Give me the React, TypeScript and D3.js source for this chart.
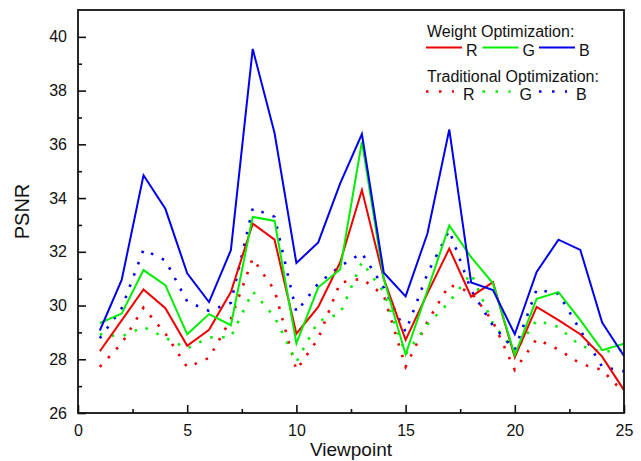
import React, { useRef, useEffect } from 'react';
import * as d3 from 'd3';

// viewpoint index on the x axis
const viewpoints = [1, 2, 3, 4, 5, 6, 7, 8, 9, 10, 11, 12, 13, 14, 15, 16, 17, 18, 19, 20, 21, 22, 23, 24, 25];

// Weight optimization (solid)
const weightR = [28.3, 29.45, 30.6, 29.9, 28.5, 29.1, 30.5, 33.05, 32.45, 28.95, 29.95, 31.6, 34.3, 31.0, 28.72, 30.45, 32.12, 30.33, 30.87, 28.07, 29.95, 29.46, 28.93, 28.1, 26.85];
const weightG = [29.35, 29.7, 31.32, 30.76, 28.93, 29.68, 29.27, 33.3, 33.15, 28.59, 30.68, 31.34, 36.1, 31.0, 28.18, 30.56, 32.98, 31.8, 30.83, 28.15, 30.25, 30.5, 29.46, 28.34, 28.58];
const weightB = [29.07, 30.95, 34.85, 33.6, 31.2, 30.13, 32.06, 39.55, 36.42, 31.58, 32.35, 34.54, 36.38, 31.22, 30.34, 32.68, 36.55, 30.86, 30.58, 28.93, 31.25, 32.45, 32.07, 29.37, 28.12];

// Traditional optimization (dotted)
const tradR = [27.72, 28.59, 29.92, 28.96, 27.7, 28.05, 29.5, 31.75, 30.57, 27.6, 28.77, 30.85, 31.0, 30.38, 27.72, 29.4, 30.77, 30.5, 29.4, 27.6, 28.75, 28.36, 27.84, 27.6, 26.75];
const tradG = [28.93, 28.85, 29.2, 28.8, 28.4, 28.81, 28.83, 30.52, 29.58, 27.9, 29.42, 29.7, 31.62, 30.5, 28.18, 29.3, 30.13, 31.2, 29.33, 28.28, 29.45, 29.2, 28.5, 28.28, 28.35];
const tradB = [28.78, 29.9, 32.08, 31.68, 30.15, 29.8, 30.1, 33.62, 33.3, 29.76, 30.82, 31.46, 31.95, 30.67, 29.02, 31.19, 32.8, 30.57, 29.25, 28.35, 30.6, 30.44, 29.08, 27.72, 27.55];

const channelNames = ['R', 'G', 'B'];
const channelColors = ['#ee0000', '#00ee00', '#0000ee'];

const xTicks = [0, 5, 10, 15, 20, 25];
const xMinorTicks = [2.5, 7.5, 12.5, 17.5, 22.5];
const yTicks = [26, 28, 30, 32, 34, 36, 38, 40];
const yMinorTicks = [27, 29, 31, 33, 35, 37, 39];

const FONT = 'Arial, "Liberation Sans", sans-serif';

const Chart: React.FC = () => {
    const svgRef = useRef<SVGSVGElement>(null);

    useEffect(() => {
        const W = 641, H = 461;
        const margin = { top: 10, right: 17, bottom: 48, left: 78 };
        const width = W - margin.left - margin.right;
        const height = H - margin.top - margin.bottom;

        const svg = d3.select(svgRef.current);
        svg.selectAll('*').remove();

        const x = d3.scaleLinear().domain([0, 25]).range([0, width]);
        const y = d3.scaleLinear().domain([26, 41]).range([height, 0]);

        const g = svg.append('g').attr('transform', `translate(${margin.left},${margin.top})`);

        const line = d3.line<number>()
            .x((_, i) => x(viewpoints[i]))
            .y(d => y(d));

        // series
        const solid = [weightR, weightG, weightB];
        const dotted = [tradR, tradG, tradB];

        dotted.forEach((s, k) => {
            g.append('path')
                .datum(s)
                .attr('fill', 'none')
                .attr('stroke', channelColors[k])
                .attr('stroke-width', 2.6)
                .attr('stroke-dasharray', '2.5 9.5')
                .attr('d', line);
        });
        solid.forEach((s, k) => {
            g.append('path')
                .datum(s)
                .attr('fill', 'none')
                .attr('stroke', channelColors[k])
                .attr('stroke-width', 2)
                .attr('stroke-linejoin', 'miter')
                .attr('d', line);
        });

        // axes (ticks pointing inward)
        const styleAxis = (sel: d3.Selection<SVGGElement, unknown, null, undefined>) => {
            sel.select('.domain').remove();
            sel.selectAll('line').attr('stroke', '#111').attr('stroke-width', 1.6);
            sel.selectAll('text').attr('fill', '#111').style('font-family', FONT).style('font-size', '16px');
        };

        g.append('g')
            .call(d3.axisLeft(y).tickValues(yTicks).tickSize(-8).tickPadding(11).tickFormat(d3.format('d')))
            .call(styleAxis);
        g.append('g')
            .call(d3.axisLeft(y).tickValues(yMinorTicks).tickSize(-4).tickFormat(() => ''))
            .call(styleAxis);

        g.append('g')
            .attr('transform', `translate(0,${height})`)
            .call(d3.axisBottom(x).tickValues(xTicks).tickSize(-8).tickPadding(12).tickFormat(d3.format('d')))
            .call(styleAxis);
        g.append('g')
            .attr('transform', `translate(0,${height})`)
            .call(d3.axisBottom(x).tickValues(xMinorTicks).tickSize(-4).tickFormat(() => ''))
            .call(styleAxis);

        // frame
        g.append('rect')
            .attr('x', 0).attr('y', 0)
            .attr('width', width).attr('height', height)
            .attr('fill', 'none')
            .attr('stroke', '#111')
            .attr('stroke-width', 1.8);

        // axis titles
        svg.append('text')
            .attr('transform', `translate(29,${margin.top + height / 2}) rotate(-90)`)
            .attr('text-anchor', 'middle')
            .attr('fill', '#111')
            .style('font-family', FONT)
            .style('font-size', '20px')
            .text('PSNR');

        svg.append('text')
            .attr('x', margin.left + width / 2)
            .attr('y', 456)
            .attr('text-anchor', 'middle')
            .attr('fill', '#111')
            .style('font-family', FONT)
            .style('font-size', '19px')
            .text('Viewpoint');

        // legend
        const legend = svg.append('g').attr('transform', 'translate(426,0)');
        const groups = [
            { title: 'Weight Optimization:', titleY: 36.5, rowY: 51.5, dashed: false },
            { title: 'Traditional Optimization:', titleY: 81.5, rowY: 95.5, dashed: true },
        ];
        groups.forEach(grp => {
            legend.append('text')
                .attr('x', 1).attr('y', grp.titleY)
                .attr('fill', '#111')
                .style('font-family', FONT)
                .style('font-size', '16px')
                .text(grp.title);
            channelNames.forEach((name, k) => {
                const x0 = k * 56.5;
                legend.append('line')
                    .attr('x1', x0).attr('x2', x0 + (grp.dashed ? 28 : 36))
                    .attr('y1', grp.rowY - 4).attr('y2', grp.rowY - 4)
                    .attr('stroke', channelColors[k])
                    .attr('stroke-width', grp.dashed ? 2.6 : 2)
                    .attr('stroke-dasharray', grp.dashed ? '2.5 10.5' : null);
                legend.append('text')
                    .attr('x', x0 + (grp.dashed ? 37 : 40)).attr('y', grp.rowY + 4.5)
                    .attr('fill', '#111')
                    .style('font-family', FONT)
                    .style('font-size', '16px')
                    .text(name);
            });
        });
    }, []);

    return <svg ref={svgRef} width={641} height={461} style={{ display: 'block' }} />;
};

export default function App() {
    useEffect(() => {
        document.body.style.margin = '0';
    }, []);
    return <Chart />;
}
